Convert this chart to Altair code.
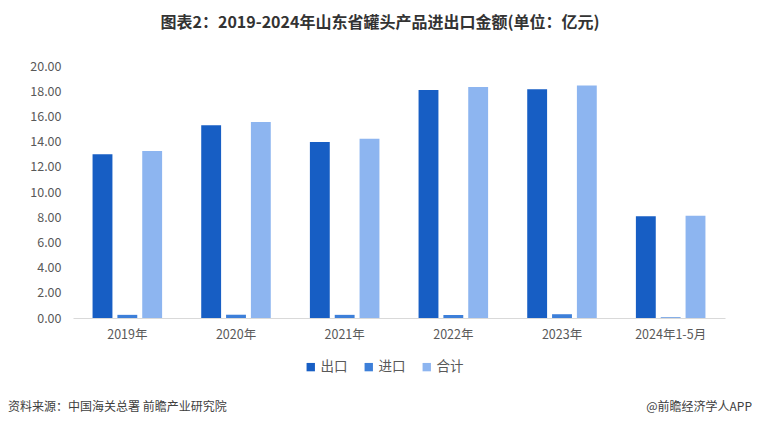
import altair as alt
import pandas as pd

years = ["2019年", "2020年", "2021年", "2022年", "2023年", "2024年1-5月"]
series = ["出口", "进口", "合计"]
export_vals = [13.0, 15.3, 13.97, 18.1, 18.15, 8.07]
import_vals = [0.25, 0.26, 0.25, 0.24, 0.30, 0.05]
total_vals = [13.25, 15.56, 14.22, 18.34, 18.45, 8.12]
colors = ["#175EC4", "#3D7FD9", "#8DB5F0"]

rows = []
for i, y in enumerate(years):
    for s, vals in zip(series, [export_vals, import_vals, total_vals]):
        rows.append({"year": y, "series": s, "value": vals[i]})
df = pd.DataFrame(rows)

font = "Noto Sans CJK SC"

bars = alt.Chart(df).mark_bar().encode(
    x=alt.X("year:N", sort=years, title=None,
            scale=alt.Scale(paddingInner=0.36, paddingOuter=0.18),
            axis=alt.Axis(labelAngle=0, ticks=False, domainColor="#d9d9d9",
                          labelColor="#595959", labelFontSize=12.5, labelFont=font,
                          labelPadding=10)),
    xOffset=alt.XOffset("series:N", sort=series, scale=alt.Scale(paddingInner=0.2)),
    y=alt.Y("value:Q", title=None,
            scale=alt.Scale(domain=[0, 20], nice=False),
            axis=alt.Axis(values=[0, 2, 4, 6, 8, 10, 12, 14, 16, 18, 20], format=".2f",
                          grid=False, domain=False, ticks=False, labelColor="#595959",
                          labelFontSize=12.5, labelFont=font, labelPadding=12)),
    color=alt.Color("series:N", sort=series,
                    scale=alt.Scale(domain=series, range=colors),
                    legend=alt.Legend(title=None, orient="none", direction="horizontal",
                                      legendX=231, legendY=294, symbolType="square",
                                      symbolSize=70, labelFontSize=13.5, labelFont=font,
                                      labelColor="#595959", columnPadding=14,
                                      labelOffset=3)),
)

foot_left = alt.Chart(pd.DataFrame({"t": ["资料来源：中国海关总署 前瞻产业研究院"]})).mark_text(
    align="left", baseline="middle", fontSize=12, font=font, color="#404040"
).encode(text="t:N", x=alt.value(-65), y=alt.value(341))

foot_right = alt.Chart(pd.DataFrame({"t": ["@前瞻经济学人APP"]})).mark_text(
    align="right", baseline="middle", fontSize=12, font=font, color="#404040"
).encode(text="t:N", x=alt.value(679), y=alt.value(341))

chart = alt.layer(bars, foot_left, foot_right).properties(
    width=652, height=252,
    autosize=alt.AutoSizeParams(type="none"),
    padding={"left": 65, "top": 58, "right": 27, "bottom": 95},
    title=alt.TitleParams("图表2：2019-2024年山东省罐头产品进出口金额(单位：亿元)",
                          font=font, fontSize=16, fontWeight="bold", color="#333333",
                          anchor="middle", dx=-19, offset=29),
).configure_view(stroke=None)

chart.save("out.html", embed_options={"renderer": "svg", "actions": False})
